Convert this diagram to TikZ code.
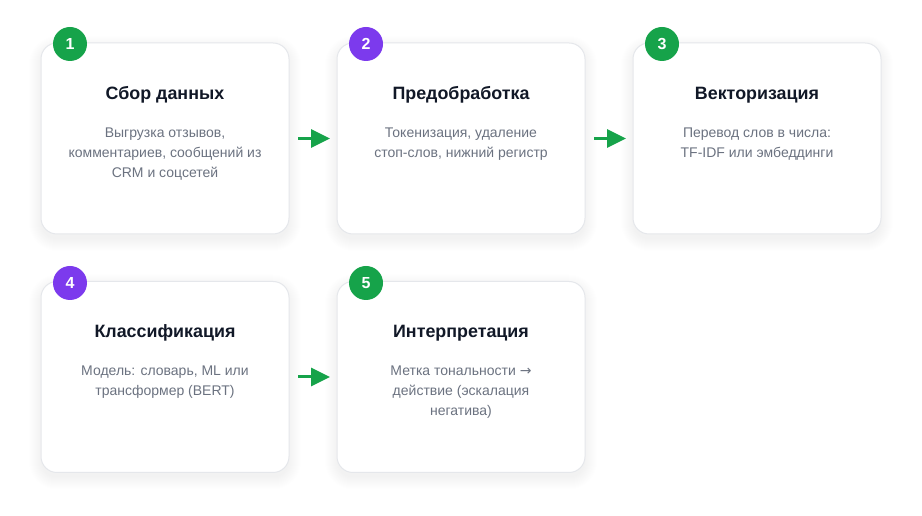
\documentclass[tikz,border=0pt]{standalone}
\usepackage{fontspec}
\setmainfont{Liberation Sans}
\newfontfamily\symfont{DejaVu Sans}
\usetikzlibrary{arrows.meta,positioning,calc}
\definecolor{okgreen}{HTML}{16A34A}
\definecolor{okpurple}{HTML}{7C3AED}
\definecolor{cardline}{HTML}{E5E7EB}
\definecolor{titlecol}{HTML}{111827}
\definecolor{desccol}{HTML}{6B7280}
\tikzset{
  card/.style={draw=cardline, line width=0.75pt, fill=white, rounded corners=12pt,
    minimum width=186pt, minimum height=143.25pt, inner sep=0pt, outer sep=0pt},
  badge/.style={circle, fill=#1, text=white, minimum size=25.5pt, inner sep=0pt,
    font=\fontsize{12}{14}\selectfont\bfseries},
  ctitle/.style={text=titlecol, font=\fontsize{13.4}{16}\selectfont\bfseries, inner sep=0pt},
  cdesc/.style={text=desccol, font=\fontsize{10.5}{15}\selectfont, align=center, inner sep=0pt, anchor=north},
  flow/.style={draw=okgreen, line width=2.25pt, -{Triangle[length=14.25pt, width=13.5pt]},
    shorten <=6.75pt, shorten >=5.25pt}
}
\begin{document}
\begin{tikzpicture}[x=0.75pt, y=-0.75pt]
\useasboundingbox[fill=white] (0,0) rectangle (922,516);
% shadow anchors
\coordinate (s1) at (165,138.5);
\coordinate (s2) at (461,138.5);
\coordinate (s3) at (757,138.5);
\coordinate (s4) at (165,377);
\coordinate (s5) at (461,377);
\foreach \p in {s1,s2,s3,s4,s5}{
  \foreach \e in {0,1,...,12}{
    \fill[black, opacity=0.0045, rounded corners=12pt+\e*0.75pt]
      ($(\p)+(-124-\e,-95.5-\e+5)$) rectangle ($(\p)+(124+\e,95.5+\e+5)$);
  }
}
% cards
\node[card] (c1) at (s1) {};
\node[card] (c2) at (s2) {};
\node[card] (c3) at (s3) {};
\node[card] (c4) at (s4) {};
\node[card] (c5) at (s5) {};
% badges
\node[badge=okgreen] (b1) at (70,44) {1};
\node[badge=okpurple] (b2) at (366,44) {2};
\node[badge=okgreen] (b3) at (662,44) {3};
\node[badge=okpurple] (b4) at (70,283) {4};
\node[badge=okgreen] (b5) at (366,283) {5};
% titles
\node[ctitle] (t1) at (165,95) {Сбор данных};
\node[ctitle] (t2) at (461,95) {Предобработка};
\node[ctitle] (t3) at (757,95) {Векторизация};
\node[ctitle] (t4) at (165,333) {Классификация};
\node[ctitle] (t5) at (461,333) {Интерпретация};
% descriptions
\node[cdesc] (d1) at (165,128) {Выгрузка отзывов,\\комментариев, сообщений из\\CRM и соцсетей};
\node[cdesc] (d2) at (461,128) {Токенизация, удаление\\стоп-слов, нижний регистр};
\node[cdesc] (d3) at (757,128) {Перевод слов в числа:\\TF-IDF или эмбеддинги};
\node[cdesc] (d4) at (165,366) {Модель: словарь, ML или\\трансформер (BERT)};
\node[cdesc] (d5) at (461,366) {Метка тональности {\symfont →}\\действие (эскалация\\негатива)};
% connectors
\draw[flow] (c1.east) -- (c2.west);
\draw[flow] (c2.east) -- (c3.west);
\draw[flow] (c4.east) -- (c5.west);
\end{tikzpicture}
\end{document}
